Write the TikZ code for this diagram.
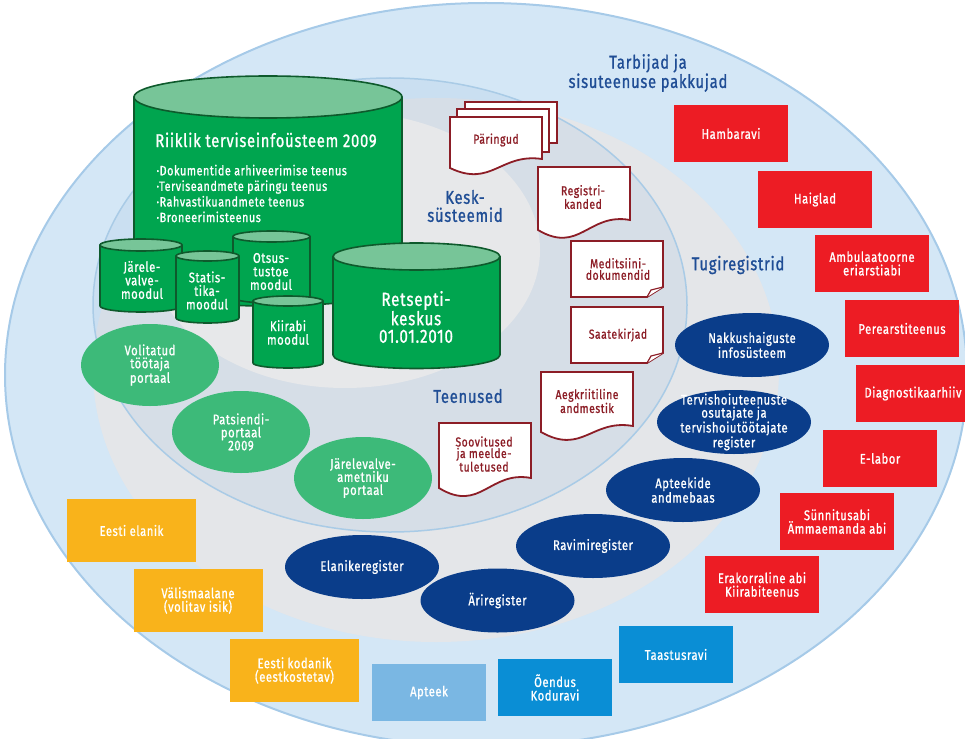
\documentclass[tikz,border=0pt]{standalone}
\usepackage{fontspec}
\setmainfont{Fira Sans}[FakeStretch=0.8, LetterSpace=4, FakeBold=1]
\usetikzlibrary{shapes.geometric}
\newcommand\fs[2]{\fontsize{#1}{#2}\selectfont}
\definecolor{outerblue}{HTML}{D4E7F6}
\definecolor{outerline}{HTML}{A6CAE8}
\definecolor{ringgrey}{HTML}{E4E6E9}
\definecolor{innergrey}{HTML}{E7E8EA}
\definecolor{tealine}{HTML}{A9CBE6}
\definecolor{teafill}{HTML}{A8C6E2}
\definecolor{cylgreen}{HTML}{00A54F}
\definecolor{cyltopgreen}{HTML}{77C598}
\definecolor{cyldark}{HTML}{0E5A2C}
\definecolor{portalgreen}{HTML}{3DBA79}
\definecolor{navy}{HTML}{0A3D8A}
\definecolor{boxred}{HTML}{ED1C24}
\definecolor{boxorange}{HTML}{F9B31B}
\definecolor{lightblue}{HTML}{7AB7E3}
\definecolor{midblue}{HTML}{0A8ED5}
\definecolor{maroon}{HTML}{8C1D26}
\definecolor{labelblue}{HTML}{1F4D95}
% cylinder: xl, xr, top cy, ry, bottom cy
\newcommand\mycyl[5]{%
  \pgfmathsetmacro\cxc{(#1+#2)/2}%
  \pgfmathsetmacro\crx{(#2-#1)/2}%
  \pgfmathsetmacro\ck{0.5523*\crx}%
  \pgfmathsetmacro\cky{0.5523*#4}%
  \pgfmathsetmacro\cyb{#5+#4}%
  \filldraw[cylbody] (#1,#3) -- (#1,#5) .. controls (#1,#5+\cky) and (\cxc-\ck,\cyb) .. (\cxc,\cyb) .. controls (\cxc+\ck,\cyb) and (#2,#5+\cky) .. (#2,#5) -- (#2,#3) -- cycle;
  \filldraw[cyltop] (\cxc,#3) ellipse [x radius=\crx, y radius=#4];
}
% wavy document: xl, xr, yt, yL, yR
\newcommand\mydoc[5]{%
  \pgfmathsetmacro\dw{#2-#1}%
  \pgfmathsetmacro\dh{#4-#3}%
  \filldraw[docst] (#1,#3) -- (#2,#3) -- (#2,#5) .. controls (#1+0.55*\dw,#5-0.12*\dh) and (#1+0.45*\dw,#4+0.39*\dh) .. (#1,#4) -- cycle;
}
% folded corner document: xl, yt, xr, yb
\newcommand\myfold[4]{%
  \filldraw[docst] (#1,#2) -- (#3,#2) -- (#3,#4-10) -- (#3-16,#4) -- (#1,#4) -- cycle;
  \filldraw[docst,line width=1.2pt] (#3-16,#4) -- (#3-12,#4-7) -- (#3,#4-10);
}
\begin{document}
\begin{tikzpicture}[x=1pt,y=-1pt,
  cylbody/.style={fill=cylgreen, draw=cyldark, line width=1.6pt, line join=round},
  cyltop/.style={fill=cyltopgreen, draw=cyldark, line width=1.6pt},
  cyltxt/.style={text=white, align=center, font=\fs{14}{13.5}},
  docst/.style={fill=white, draw=maroon, line width=1.8pt, line join=miter},
  doctxt/.style={text=maroon, align=center, font=\fs{13}{11.5}},
  rbox/.style={fill=boxred, minimum width=114pt, minimum height=57pt, inner sep=0pt, text=white, align=center, font=\fs{14}{13.5}},
  obox/.style={rbox, fill=boxorange, minimum width=129pt, minimum height=63pt},
  bbox/.style={rbox, fill=midblue},
  navyell/.style={ellipse, fill=navy, minimum width=154pt, minimum height=64pt, inner sep=0pt},
  greenell/.style={ellipse, fill=portalgreen, minimum width=138pt, minimum height=82pt, inner sep=0pt},
  elltxt/.style={text=white, align=center, font=\fs{14}{13}},
  lbl/.style={text=labelblue, align=center, font=\fs{18.5}{18}}]
\useasboundingbox (0,0) rectangle (965,738);
% background ellipses
\filldraw[fill=outerblue, draw=outerline, line width=2pt] (486,375) ellipse [x radius=481, y radius=372];
\fill[ringgrey] (436,370) ellipse [x radius=343, y radius=272];
\filldraw[fill=teafill, fill opacity=0.22, draw=tealine, line width=1.5pt] (390,305) ellipse [x radius=297, y radius=227];
\fill[innergrey] (345,250) ellipse [x radius=195, y radius=138];
% cylinders
\mycyl{134}{402}{97}{21}{285}
\node[text=white, font=\fs{18.5}{20}] (rtitle) at (266,140) {Riiklik terviseinfoüsteem 2009};
\node[anchor=west, align=left, text=white, font=\fs{13.5}{15.6}] (services) at (153,193.5) {·Dokumentide arhiveerimise teenus\\·Terviseandmete päringu teenus\\·Rahvastikuandmete teenus\\·Broneerimisteenus};
\mycyl{100}{182}{245}{6}{306}
\node[cyltxt] (jarele) at (142,280) {Järele-\\valve-\\moodul};
\mycyl{233}{310}{236.5}{5.5}{297.5}
\node[cyltxt] (otsus) at (271,271.5) {Otsus-\\tustoe\\moodul};
\mycyl{176}{239}{256}{5}{318}
\node[cyltxt] (statis) at (207,290.5) {Statis-\\tika-\\moodul};
\mycyl{253}{323}{301}{5}{363}
\node[cyltxt] (kiirabi) at (288,332.5) {Kiirabi\\moodul};
\mycyl{333}{500}{256.5}{13.5}{355}
\node[text=white, align=center, font=\fs{19}{17.5}] (retsepti) at (416,317) {Retsepti-\\keskus\\01.01.2010};
% portals
\node[greenell] (volit) at (150,365) {};
\node[elltxt] (volitT) at (volit) {Volitatud\\töötaja\\portaal};
\node[greenell] (patsi) at (241,432) {};
\node[elltxt] (patsiT) at (patsi) {Patsiendi-\\portaal\\2009};
\node[greenell] (jamet) at (363,478) {};
\node[elltxt] (jametT) at (jamet) {Järelevalve-\\ametniku\\portaal};
% documents
\filldraw[docst] (465,102) rectangle (557,143);
\filldraw[docst] (457,109) rectangle (549,152);
\mydoc{450}{542}{117}{168}{159}
\node[doctxt] (paringud) at (496,140) {Päringud};
\mydoc{538}{630}{167}{230}{220}
\node[doctxt] (registri) at (583,197) {Registri-\\kanded};
\myfold{571}{241}{663}{297}
\node[doctxt] (medits) at (618,269) {Meditsiini-\\dokumendid};
\myfold{571}{307}{663}{363}
\node[doctxt] (saate) at (618,335) {Saatekirjad};
\mydoc{541}{633}{372}{432}{426}
\node[doctxt] (aegkr) at (587,401) {Aegkriitiline\\andmestik};
\mydoc{439}{531}{423}{488}{478}
\node[doctxt] (soovit) at (484,454) {Soovitused\\ja meelde-\\tuletused};
% labels
\node[lbl] (tarbijad) at (648,73) {Tarbijad ja\\sisuteenuse pakkujad};
\node[lbl] (kesk) at (465,206) {Kesk-\\süsteemid};
\node[lbl] (tugi) at (738,265) {Tugiregistrid};
\node[lbl] (teenused) at (468,396) {Teenused};
% registers
\node[navyell] (nakk) at (752,345) {};
\node[elltxt] (nakkT) at (nakk) {Nakkushaiguste\\infosüsteem};
\node[navyell] (terv) at (734,422) {};
\node[elltxt] (tervT) at (terv) {Tervishoiuteenuste\\osutajate ja\\tervishoiutöötajate\\register};
\node[navyell] (aptk) at (683,490) {};
\node[elltxt] (aptkT) at (aptk) {Apteekide\\andmebaas};
\node[navyell] (ravim) at (593,546) {};
\node[elltxt] (ravimT) at (ravim) {Ravimiregister};
\node[navyell] (ari) at (497.5,600.5) {};
\node[elltxt] (ariT) at (ari) {Äriregister};
\node[navyell] (elanik) at (362,567) {};
\node[elltxt] (elanikT) at (elanik) {Elanikeregister};
% red boxes
\node[rbox] (hamba) at (731,133.5) {Hambaravi};
\node[rbox] (haigl) at (815,199.5) {Haiglad};
\node[rbox] (ambul) at (872,263.5) {Ambulaatoorne\\eriarstiabi};
\node[rbox] (perea) at (902,328.5) {Perearstiteenus};
\node[rbox] (diagn) at (913,393.5) {Diagnostikaarhiiv};
\node[rbox] (elab) at (880,458.5) {E-labor};
\node[rbox] (synni) at (837,521.5) {Sünnitusabi\\Ämmaemanda abi};
\node[rbox] (erak) at (762,584.5) {Erakorraline abi\\Kiirabiteenus};
% blue boxes
\node[bbox] (taast) at (676,654.5) {Taastusravi};
\node[bbox] (oendus) at (555,687.5) {Õendus\\Koduravi};
\node[bbox, fill=lightblue] (apteek) at (429,692.5) {Apteek};
% orange boxes
\node[obox] (eelanik) at (131.5,530.5) {Eesti elanik};
\node[obox] (valism) at (198,600.5) {Välismaalane\\(volitav isik)};
\node[obox] (ekodan) at (294.5,670.5) {Eesti kodanik\\(eestkostetav)};
\end{tikzpicture}
\end{document}
